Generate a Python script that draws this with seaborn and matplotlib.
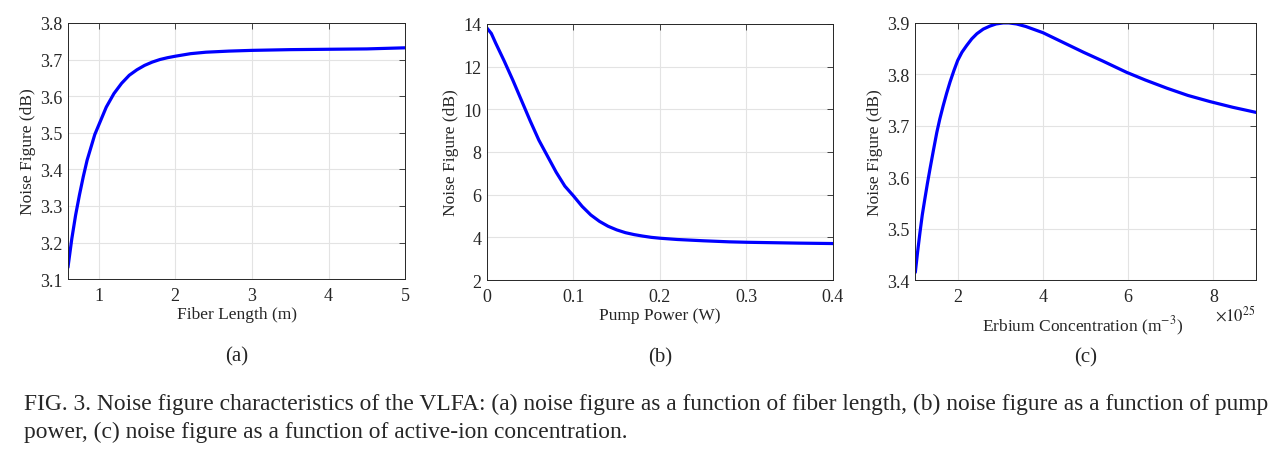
import numpy as np
import pandas as pd
import seaborn as sns
import matplotlib.pyplot as plt

# values
fiber_length = [0.6, 0.65, 0.7, 0.75, 0.8, 0.85, 0.9, 0.95, 1.0, 1.1, 1.2, 1.3, 1.4, 1.5, 1.6,
                1.7, 1.8, 1.9, 2.0, 2.2, 2.4, 2.7, 3.0, 3.5, 4.0, 4.5, 5.0]
nf_length = [3.132, 3.21, 3.275, 3.33, 3.38, 3.425, 3.46, 3.495, 3.52, 3.57, 3.607, 3.635, 3.657,
             3.672, 3.684, 3.693, 3.70, 3.705, 3.709, 3.716, 3.72, 3.723, 3.725, 3.727, 3.728,
             3.729, 3.732]

pump_power = [0.0, 0.005, 0.01, 0.02, 0.03, 0.04, 0.05, 0.06, 0.07, 0.08, 0.09, 0.10, 0.11, 0.12,
              0.13, 0.14, 0.15, 0.16, 0.17, 0.18, 0.19, 0.20, 0.22, 0.25, 0.28, 0.30, 0.33, 0.36, 0.40]
nf_pump = [13.8, 13.55, 13.1, 12.25, 11.35, 10.4, 9.45, 8.55, 7.8, 7.05, 6.4, 5.94, 5.45, 5.05,
           4.75, 4.52, 4.35, 4.22, 4.13, 4.06, 4.0, 3.96, 3.9, 3.84, 3.79, 3.77, 3.75, 3.73, 3.71]

er_conc = [1.006, 1.06, 1.116, 1.17, 1.23, 1.29, 1.35, 1.43, 1.51, 1.58, 1.66, 1.74, 1.82, 1.91,
           2.0, 2.1, 2.21, 2.33, 2.45, 2.6, 2.76, 2.9, 3.07, 3.2, 3.38, 3.6, 3.8, 4.0, 4.3, 4.6,
           4.95, 5.4, 5.96, 6.4, 6.91, 7.4, 7.92, 8.45, 9.0]  # x 1e25 m^-3
nf_conc = [3.415, 3.455, 3.493, 3.527, 3.558, 3.588, 3.616, 3.652, 3.687, 3.713, 3.739, 3.763,
           3.785, 3.807, 3.827, 3.843, 3.856, 3.869, 3.879, 3.888, 3.894, 3.898, 3.9, 3.9, 3.898,
           3.893, 3.887, 3.881, 3.869, 3.857, 3.843, 3.826, 3.804, 3.789, 3.773, 3.759, 3.747,
           3.736, 3.726]

sns.set_style('white')
plt.rcParams['font.family'] = ['Liberation Serif', 'DejaVu Serif']
plt.rcParams['mathtext.fontset'] = 'stix'

fig = plt.figure(figsize=(12.87, 4.6), dpi=100)
ink = '#262626'

panels = [
    ([0.0528, 0.391, 0.262, 0.557], fiber_length, nf_length, 'Fiber Length (m)',
     (0.6, 5), [1, 2, 3, 4, 5], (3.1, 3.8), np.arange(3.1, 3.81, 0.1), '%.1f', '(a)'),
    ([0.3784, 0.389, 0.2688, 0.557], pump_power, nf_pump, 'Pump Power (W)',
     (0, 0.4), [0, 0.1, 0.2, 0.3, 0.4], (2, 14), np.arange(2, 15, 2), '%d', '(b)'),
    ([0.711, 0.389, 0.265, 0.559], er_conc, nf_conc, 'Erbium Concentration (m$^{-3}$)',
     (1, 9), [2, 4, 6, 8], (3.4, 3.9), np.arange(3.4, 3.91, 0.1), '%.1f', '(c)'),
]

for rect, x, y, xlabel, xlim, xticks, ylim, yticks, yfmt, tag in panels:
    ax = fig.add_axes(rect)
    df = pd.DataFrame({'x': x, 'y': y})
    sns.lineplot(data=df, x='x', y='y', ax=ax, color='#0000ff', linewidth=2.3)
    ax.set_xlim(*xlim)
    ax.set_ylim(*ylim)
    ax.set_xticks(xticks)
    ax.set_yticks(yticks)
    ax.set_yticklabels([yfmt % v for v in yticks])
    ax.set_xticklabels([('%g' % v) for v in xticks])
    ax.grid(True, color='#e3e3e3', linewidth=0.8)
    ax.tick_params(direction='in', length=4, width=0.6, top=True, right=True,
                   labelsize=13, colors=ink)
    ax.tick_params(axis='x', pad=6)
    ax.tick_params(axis='y', pad=4)
    for s in ax.spines.values():
        s.set_color(ink)
        s.set_linewidth(0.7)
    ax.set_xlabel(xlabel, fontsize=12.5, color=ink, labelpad=1)
    ax.set_ylabel('Noise Figure (dB)', fontsize=12.5, color=ink, labelpad=3)
    ax.text(0.5, -0.30, tag, transform=ax.transAxes, ha='center', va='center', fontsize=15)
    if tag == '(c)':
        ax.set_xlabel(xlabel, fontsize=12.5, color=ink, labelpad=6)
        ax.xaxis.label.set_position((0.49, 0))
        ax.text(0.938, -0.132, r'$\times10^{25}$', transform=ax.transAxes,
                ha='center', va='center', fontsize=12, color=ink)

fig.text(0.019, 0.12, 'FIG. 3. Noise figure characteristics of the VLFA: (a) noise figure as a function of fiber length, '
         '(b) noise figure as a function of pump', fontsize=16.9, va='center')
fig.text(0.019, 0.061, 'power, (c) noise figure as a function of active-ion concentration.',
         fontsize=16.9, va='center')

fig.savefig('out.png', dpi=100)
